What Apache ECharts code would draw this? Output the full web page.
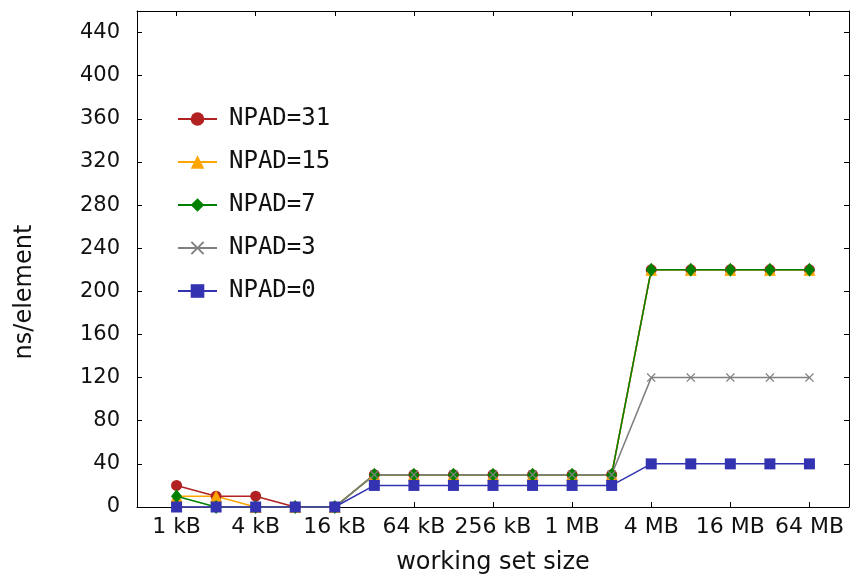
<!DOCTYPE html>
<html>
<head>
<meta charset="utf-8">
<script src="https://cdn.jsdelivr.net/npm/echarts@6/dist/echarts.min.js"></script>
<style>
  html, body { margin: 0; padding: 0; background: #fff; }
  #chart { width: 850px; height: 583px; }
</style>
</head>
<body>
<div id="chart"></div>
<script>
  // working set sizes, one point per power of two
  const sizes = ['1 kB', '2 kB', '4 kB', '8 kB', '16 kB', '32 kB', '64 kB', '128 kB', '256 kB',
    '512 kB', '1 MB', '2 MB', '4 MB', '8 MB', '16 MB', '32 MB', '64 MB']
  const labelIdx = [0, 2, 4, 6, 8, 10, 12, 14, 16]

  const npad31 = [20, 10, 10, 0, 0, 30, 30, 30, 30, 30, 30, 30, 220, 220, 220, 220, 220]
  const npad15 = [10, 10, 0, 0, 0, 30, 30, 30, 30, 30, 30, 30, 220, 220, 220, 220, 220]
  const npad7 = [10, 0, 0, 0, 0, 30, 30, 30, 30, 30, 30, 30, 220, 220, 220, 220, 220]
  const npad3 = [0, 0, 0, 0, 0, 30, 30, 30, 30, 30, 30, 30, 120, 120, 120, 120, 120]
  const npad0 = [0, 0, 0, 0, 0, 20, 20, 20, 20, 20, 20, 20, 40, 40, 40, 40, 40]

  const labelFont = 'DejaVu Sans'
  const monoFont = 'DejaVu Sans Mono'
  const crossPath = 'path://M0,1L1,0L5,4L9,0L10,1L6,5L10,9L9,10L5,6L1,10L0,9L4,5Z'

  const pts = vals => vals.map((v, i) => [i, v])

  const mkSeries = (name, vals, color, symbol, size) => ({
    name,
    type: 'line',
    data: pts(vals),
    color,
    symbol,
    symbolSize: size,
    showAllSymbol: true,
    lineStyle: {width: 1.5, color},
    itemStyle: {color},
    animation: false
  })

  const chart = echarts.init(document.getElementById('chart'))

  const xBase = {
    type: 'value',
    min: -1,
    max: 17,
    splitLine: {show: false},
    axisLine: {show: true, onZero: false, lineStyle: {color: '#000', width: 1}}
  }
  const yBase = {
    type: 'value',
    min: 0,
    max: 460,
    interval: 40,
    splitLine: {show: false},
    axisLine: {show: true, onZero: false, lineStyle: {color: '#000', width: 1}},
    axisTick: {show: true, inside: true, length: 5, lineStyle: {color: '#000'}}
  }

  chart.setOption({
    backgroundColor: '#fff',
    grid: {left: 137, right: 1, top: 11, bottom: 76},
    legend: {
      orient: 'vertical',
      left: 177,
      top: 107,
      padding: 0,
      itemWidth: 39,
      itemHeight: 17,
      itemGap: 19,
      textStyle: {
        fontFamily: monoFont,
        fontSize: 24,
        lineHeight: 24,
        color: '#111',
        padding: [0, 0, 0, 7]
      },
      data: ['NPAD=31', 'NPAD=15', 'NPAD=7', 'NPAD=3', 'NPAD=0']
    },
    xAxis: [
      Object.assign({}, xBase, {
        position: 'bottom',
        name: 'working set size',
        nameLocation: 'middle',
        nameGap: 44,
        nameTextStyle: {fontFamily: labelFont, fontSize: 24, color: '#111'},
        axisTick: {show: true, inside: true, length: 5, customValues: labelIdx, lineStyle: {color: '#000'}},
        axisLabel: {
          show: true,
          customValues: labelIdx,
          margin: 9,
          fontFamily: labelFont,
          fontSize: 22,
          color: '#111',
          formatter: v => sizes[v]
        }
      }),
      Object.assign({}, xBase, {
        position: 'top',
        axisTick: {show: true, inside: true, length: 5, customValues: labelIdx, lineStyle: {color: '#000'}},
        axisLabel: {show: false}
      })
    ],
    yAxis: [
      Object.assign({}, yBase, {
        position: 'left',
        name: 'ns/element',
        nameLocation: 'middle',
        nameGap: 100,
        nameTextStyle: {fontFamily: labelFont, fontSize: 24, color: '#111', padding: [0, 66, 0, 0]},
        axisLabel: {
          show: true,
          showMaxLabel: false,
          margin: 17,
          fontFamily: labelFont,
          fontSize: 21,
          color: '#111'
        }
      }),
      Object.assign({}, yBase, {
        position: 'right',
        axisLabel: {show: false}
      })
    ],
    series: [
      mkSeries('NPAD=31', npad31, '#b22222', 'circle', 11),
      mkSeries('NPAD=15', npad15, '#ffa500', 'triangle', 12),
      mkSeries('NPAD=7', npad7, '#008000', 'diamond', [11, 14]),
      mkSeries('NPAD=3', npad3, '#808080', crossPath, 9),
      mkSeries('NPAD=0', npad0, '#3333b2', 'rect', 11)
    ]
  })
</script>
</body>
</html>
